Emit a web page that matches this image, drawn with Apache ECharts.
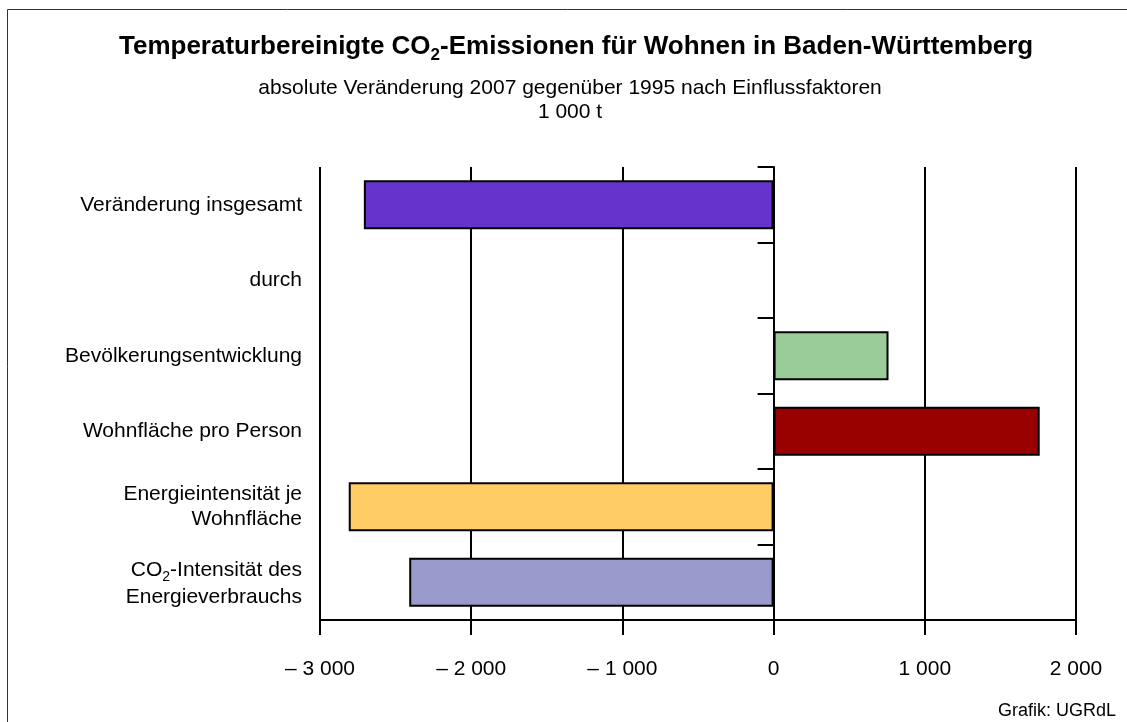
<!DOCTYPE html>
<html lang="de">
<head>
    <meta charset="utf-8">
    <title>CO2-Emissionen Wohnen</title>
    <style>
        html, body { margin: 0; padding: 0; background: #fff; }
        #main { width: 1127px; height: 722px; }
    </style>
</head>
<body>
<div id="main"></div>
<script src="https://cdn.jsdelivr.net/npm/echarts@6/dist/echarts.min.js"></script>
<script type="text/javascript">
    // Daten
    var categories = [
        'Veränderung insgesamt',
        'durch',
        'Bevölkerungsentwicklung',
        'Wohnfläche pro Person',
        'Energieintensität je\nWohnfläche',
        'CO₂-Intensität des\nEnergieverbrauchs'
    ];
    var values = [-2710, null, 760, 1760, -2810, -2410];
    var barColors = ['#6633cc', '#99cc99', '#99cc99', '#990000', '#ffcc66', '#9999cc'];
    var xTicks = [-3000, -2000, -1000, 0, 1000, 2000];

    var FONT = 'Liberation Sans, Arial, sans-serif';

    // 1 000 / – 3 000
    function fmt(v) {
        var s = String(Math.abs(v)).replace(/\B(?=(\d{3})+(?!\d))/g, ' ');
        return v < 0 ? '– ' + s : s;
    }

    var chart = echarts.init(document.getElementById('main'));

    var option = {
        backgroundColor: '#fff',
        animation: false,
        title: [
            {
                text: 'Temperaturbereinigte CO{sub|2}-Emissionen für Wohnen in Baden-Württemberg',
                left: 114,
                top: 25,
                textStyle: {
                    fontFamily: FONT, fontSize: 26, fontWeight: 'bold', color: '#000',
                    rich: {
                        sub: { fontFamily: FONT, fontSize: 17, fontWeight: 'bold', color: '#000', verticalAlign: 'bottom', lineHeight: 34 }
                    }
                }
            },
            {
                text: 'Grafik: UGRdL',
                right: 6,
                top: 697,
                textStyle: { fontFamily: FONT, fontSize: 18, fontWeight: 'normal', color: '#000' }
            }
        ],
        graphic: [
            {
                type: 'rect',
                silent: true,
                shape: { x: 7.5, y: 9.5, width: 1140, height: 730 },
                style: { fill: 'none', stroke: '#333', lineWidth: 1 }
            },
            {
                // Untertitel
                type: 'text',
                silent: true,
                x: 570,
                y: 76,
                style: {
                    text: 'absolute Veränderung 2007 gegenüber 1995 nach Einflussfaktoren\n1 000 t',
                    align: 'center',
                    verticalAlign: 'top',
                    fontFamily: FONT,
                    fontSize: 21,
                    lineHeight: 24,
                    fill: '#000'
                }
            }
        ],
        grid: { left: 320, right: 51, top: 167, bottom: 102 },
        xAxis: {
            type: 'value',
            min: xTicks[0],
            max: xTicks[xTicks.length - 1],
            interval: 1000,
            axisLine: { show: true, onZero: false, lineStyle: { color: '#000', width: 2 } },
            axisTick: { show: true, length: 15, lineStyle: { color: '#000', width: 2 } },
            splitLine: { show: true, lineStyle: { color: '#000', width: 2 } },
            axisLabel: { fontFamily: FONT, fontSize: 21, color: '#000', margin: 39, formatter: fmt }
        },
        yAxis: [
            {
                // Beschriftung links
                type: 'category',
                data: categories,
                inverse: true,
                position: 'left',
                axisLine: { show: false, onZero: false },
                axisTick: { show: false },
                splitLine: { show: false },
                axisLabel: {
                    fontFamily: FONT, fontSize: 21, color: '#000', margin: 18, lineHeight: 25, align: 'right',
                    formatter: function (v) { return v.replace('₂', '{sub|2}'); },
                    rich: {
                        sub: { fontFamily: FONT, fontSize: 14, color: '#000', verticalAlign: 'bottom', lineHeight: 29 }
                    }
                }
            },
            {
                // Nulllinie mit Strichen
                type: 'category',
                data: categories,
                inverse: true,
                position: 'left',
                axisLine: { show: true, onZero: true, lineStyle: { color: '#000', width: 2 } },
                axisTick: { show: true, length: 16, lineStyle: { color: '#000', width: 2 } },
                axisLabel: { show: false },
                splitLine: { show: false }
            }
        ],
        series: [{
            type: 'bar',
            yAxisIndex: 0,
            barWidth: 49,
            data: values.map(function (v, i) {
                return { value: v, itemStyle: { color: barColors[i] } };
            }),
            itemStyle: { borderColor: '#000', borderWidth: 2 }
        }]
    };

    chart.setOption(option);
</script>
</body>
</html>
